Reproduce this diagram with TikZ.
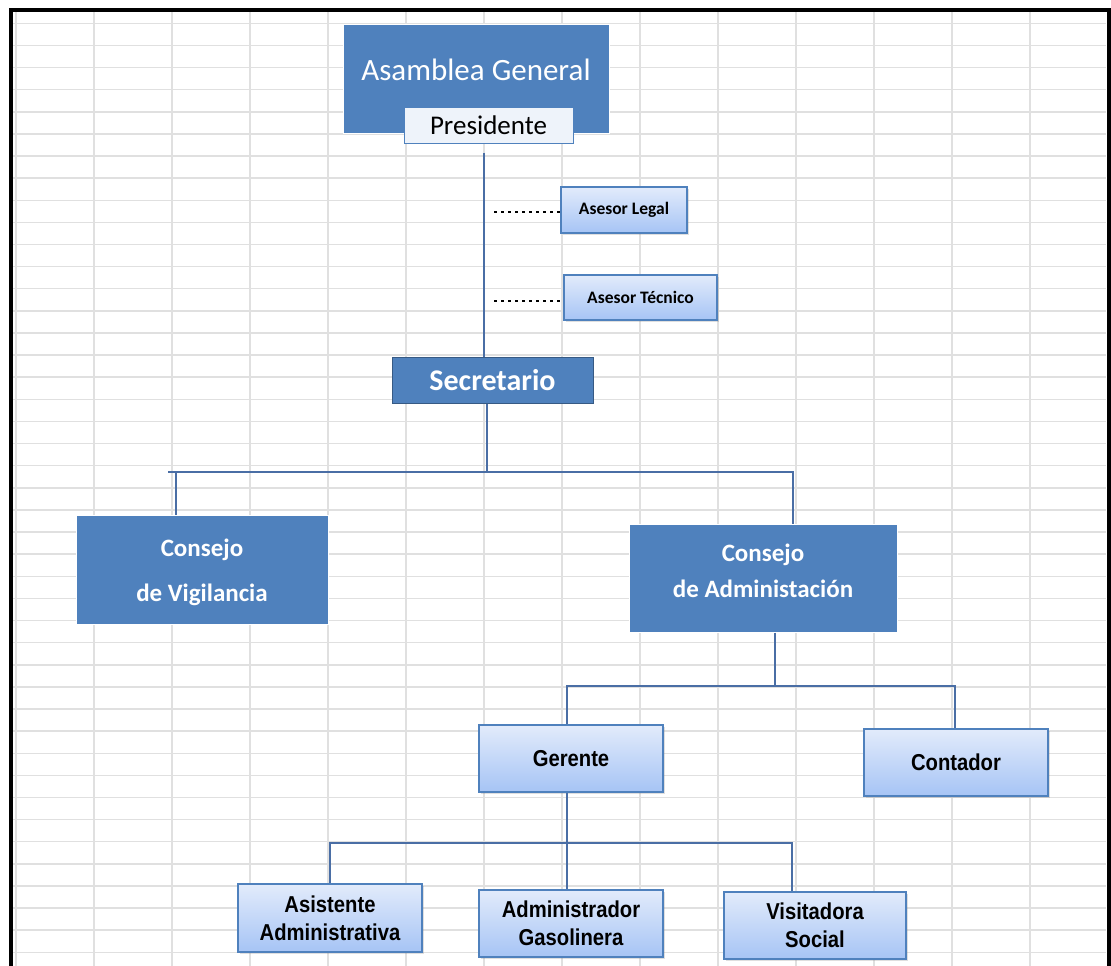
\documentclass[tikz,border=0pt]{standalone}
\usepackage{fontspec}
\setmainfont{Carlito}
\newfontfamily\narrowfont[FakeStretch=0.88]{Liberation Sans}
\usetikzlibrary{shadows}
\definecolor{boxblue}{HTML}{4F81BD}
\definecolor{linkblue}{HTML}{4A6EA5}
\definecolor{gridgray}{HTML}{E0E0E0}
\definecolor{lighttop}{HTML}{E2EBFB}
\definecolor{lightbot}{HTML}{A6C4F5}
\definecolor{presfill}{HTML}{EEF3FA}

\begin{document}
\begin{tikzpicture}[x=1pt,y=-1pt,
  bigbox/.style={fill=boxblue,draw=white,line width=1pt,text=white,align=center},
  lightbox/.style={draw=boxblue,line width=1.5pt,top color=lighttop,bottom color=lightbot,align=center,
    drop shadow={opacity=0.25,shadow xshift=1.5pt,shadow yshift=-1.5pt}},
  bottomtext/.style={font=\narrowfont\bfseries\fontsize{23}{28}\selectfont},
  link/.style={draw=linkblue,line width=2pt},
  dotline/.style={draw=black,line width=1.2pt,dash pattern=on 3pt off 4pt},
  gridline/.style={draw=gridgray,line width=1.5pt}]
\useasboundingbox (0,0) rectangle (1111,966);
\fill[white] (0,0) rectangle (1111,966);
\foreach \k in {0,...,13}
\draw[gridline] ({16+78*\k},12) -- ({16+78*\k},966);
\foreach \k in {0,...,42}
\draw[gridline] (13,{23.3+22.12*\k}) -- (1106,{23.3+22.12*\k});
\draw[line width=4pt] (11,966) -- (11,10.3) -- (1108.7,10.3) -- (1108.7,966);

\node[bigbox,minimum width=266pt,minimum height=108pt,
  label={[text=white,font=\fontsize{31}{37}\selectfont,yshift=9pt]center:Asamblea General}] (asam) at (476,79) {};
\node[draw=boxblue,fill=presfill,line width=1pt,minimum width=169pt,minimum height=36pt,
  font=\fontsize{27}{32}\selectfont] (pres) at (488.5,125) {Presidente};
\node[lightbox,minimum width=126pt,minimum height=46pt,font=\bfseries\fontsize{17.5}{20}\selectfont] (legal) at (624,210) {Asesor Legal};
\node[lightbox,minimum width=153pt,minimum height=45pt,font=\bfseries\fontsize{17.5}{20}\selectfont] (tecnico) at (640.5,297.5) {Asesor Técnico};
\node[bigbox,draw=boxblue!70!black,minimum width=201pt,minimum height=46pt,
  font=\bfseries\fontsize{30}{36}\selectfont] (sec) at (492.5,380) {Secretario};
\node[bigbox,minimum width=252pt,minimum height=109pt,
  label={[text=white,align=center,font=\bfseries\fontsize{25}{45}\selectfont,yshift=-3pt]center:Consejo\\de Vigilancia}] (vig) at (202,569.5) {};
\node[bigbox,minimum width=268pt,minimum height=108pt,
  label={[text=white,align=center,font=\bfseries\fontsize{25}{36}\selectfont,yshift=7pt]center:Consejo\\de Administación}] (adm) at (763,578) {};
\node[lightbox,bottomtext,minimum width=184pt,minimum height=67pt] (ger) at (571,758.5) {Gerente};
\node[lightbox,bottomtext,minimum width=184pt,minimum height=67pt] (cont) at (956,762.5) {Contador};
\node[lightbox,bottomtext,minimum width=184pt,minimum height=68pt] (asis) at (330,918) {Asistente\\Administrativa};
\node[lightbox,bottomtext,minimum width=184pt,minimum height=67pt] (admg) at (571,923.5) {Administrador\\Gasolinera};
\node[lightbox,bottomtext,minimum width=182pt,minimum height=67pt] (visi) at (815,925.5) {Visitadora\\Social};

\coordinate (dotL) at (494,212);
\coordinate (dotT) at (494,301);
\coordinate (busA) at (487,472);
\coordinate (busAend) at (168,472);
\coordinate (busB) at (775,686);
\coordinate (busC) at (567,843);

\draw[link] ([xshift=-4.5pt,yshift=-9pt]pres.south) -- ([xshift=-4.5pt]pres.south |- sec.north);
\draw[dotline] (dotL) -- (legal.west |- dotL);
\draw[dotline] (dotT) -- (tecnico.west |- dotT);
\draw[link] ([xshift=-5.5pt]sec.south) -- (busA);
\draw[link] ([xshift=-26pt]vig.north) |- (busA) -| ([xshift=30pt]adm.north);
\draw[link] (busAend) -- ([xshift=-26pt]vig.north |- busA);
\draw[link] ([xshift=12pt]adm.south) -- (busB);
\draw[link] ([xshift=-4pt]ger.north) |- (busB) -| ([xshift=-1pt]cont.north);
\draw[link] ([xshift=-4pt]ger.south) -- ([xshift=-4pt]admg.north);
\draw[link] (asis.north) |- (busC) -| ([xshift=-23pt]visi.north);
\end{tikzpicture}
\end{document}
